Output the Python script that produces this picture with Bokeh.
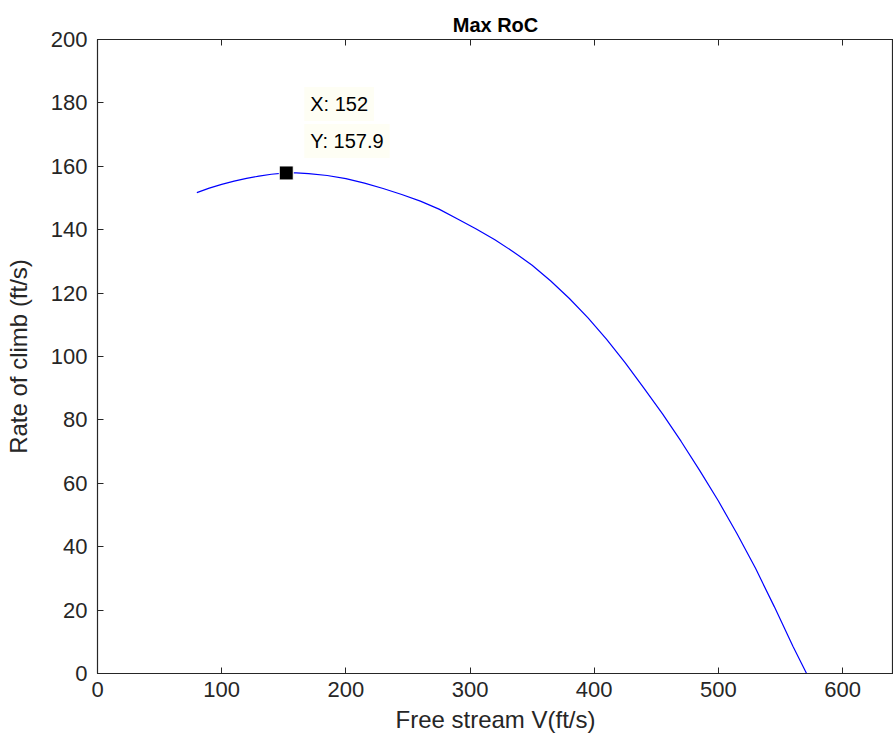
from bokeh.plotting import figure
from bokeh.models import Range1d, LinearAxis, FixedTicker, Label, ColumnDataSource
from bokeh.embed import file_html
from bokeh.resources import INLINE

# Data
speed = [80, 90, 100, 110, 120, 130, 140, 152, 160, 170, 185, 200, 215, 230,
         245, 260, 275, 290, 305, 320, 335, 350, 365, 380, 395, 410, 425, 440,
         455, 470, 485, 500, 515, 530, 545, 560, 571]
roc = [151.7, 153.1, 154.3, 155.3, 156.2, 156.9, 157.5, 157.9, 157.9, 157.7,
       157.1, 156.1, 154.7, 153.0, 151.1, 149.0, 146.5, 143.4, 140.2, 136.8,
       133.0, 128.8, 123.8, 118.3, 112.2, 105.4, 98.0, 90.0, 81.9, 73.2, 64.0,
       54.4, 44.1, 33.1, 21.1, 8.6, 0.0]
tip_v = [152]
tip_r = [157.9]
x_ticks = [0, 100, 200, 300, 400, 500, 600]
y_ticks = [0, 20, 40, 60, 80, 100, 120, 140, 160, 180, 200]

FONT = "Liberation Sans"
INK = "#262626"

p = figure(width=893, height=748, output_backend="svg", toolbar_location=None,
           x_range=Range1d(0, 641), y_range=Range1d(0, 200),
           min_border_left=97, min_border_right=0, min_border_top=39,
           min_border_bottom=75, title="Max RoC")
p.title.align = "center"
p.title.text_font = FONT
p.title.text_font_size = "20px"
p.title.text_font_style = "bold"
p.title.text_color = "#000000"
p.title.standoff = 8

p.grid.visible = False
p.outline_line_color = INK
p.outline_line_width = 1.2
p.background_fill_color = "white"
p.border_fill_color = "white"

p.xaxis.ticker = FixedTicker(ticks=x_ticks)
p.yaxis.ticker = FixedTicker(ticks=y_ticks)
for ax in (p.xaxis[0], p.yaxis[0]):
    ax.major_tick_in = 6
    ax.major_tick_out = 0
    ax.minor_tick_line_color = None
    ax.axis_line_color = INK
    ax.major_tick_line_color = INK
    ax.major_label_text_font = FONT
    ax.major_label_text_font_size = "22px"
    ax.major_label_text_color = INK
    ax.axis_label_text_font = FONT
    ax.axis_label_text_font_size = "24px"
    ax.axis_label_text_font_style = "normal"
    ax.axis_label_text_color = INK

p.xaxis.axis_label = "Free stream V(ft/s)"
p.yaxis.axis_label = "Rate of climb (ft/s)"
p.xaxis.major_label_standoff = 8
p.xaxis.axis_label_standoff = 6
p.yaxis.major_label_standoff = 10
p.yaxis.axis_label_standoff = 16

top = LinearAxis(ticker=FixedTicker(ticks=x_ticks), major_tick_in=6, major_tick_out=0,
                 minor_tick_line_color=None, axis_line_color=INK,
                 major_tick_line_color=INK, major_label_text_font_size="1px",
                 major_label_overrides={t: "" for t in x_ticks},
                 major_label_standoff=0)
p.add_layout(top, "above")

src = ColumnDataSource(dict(v=speed, r=roc))
p.line("v", "r", source=src, line_color="#0000FF", line_width=1.2)
p.scatter(x=tip_v, y=tip_r, marker="square", size=14, fill_color="black",
          line_color="white", line_width=1)

lbl_style = dict(text_font=FONT, text_font_size="20px", text_color="#000000",
                 text_align="left", text_baseline="middle",
                 background_fill_color="#FEFEF4", padding=6)
p.add_layout(Label(x=tip_v[0], y=tip_r[0], x_offset=18, y_offset=69,
                   text=f"X: {tip_v[0]}", **lbl_style))
p.add_layout(Label(x=tip_v[0], y=tip_r[0], x_offset=18, y_offset=32,
                   text=f"Y: {tip_r[0]}", **lbl_style))

open("out.html", "w").write(file_html(p, INLINE))
